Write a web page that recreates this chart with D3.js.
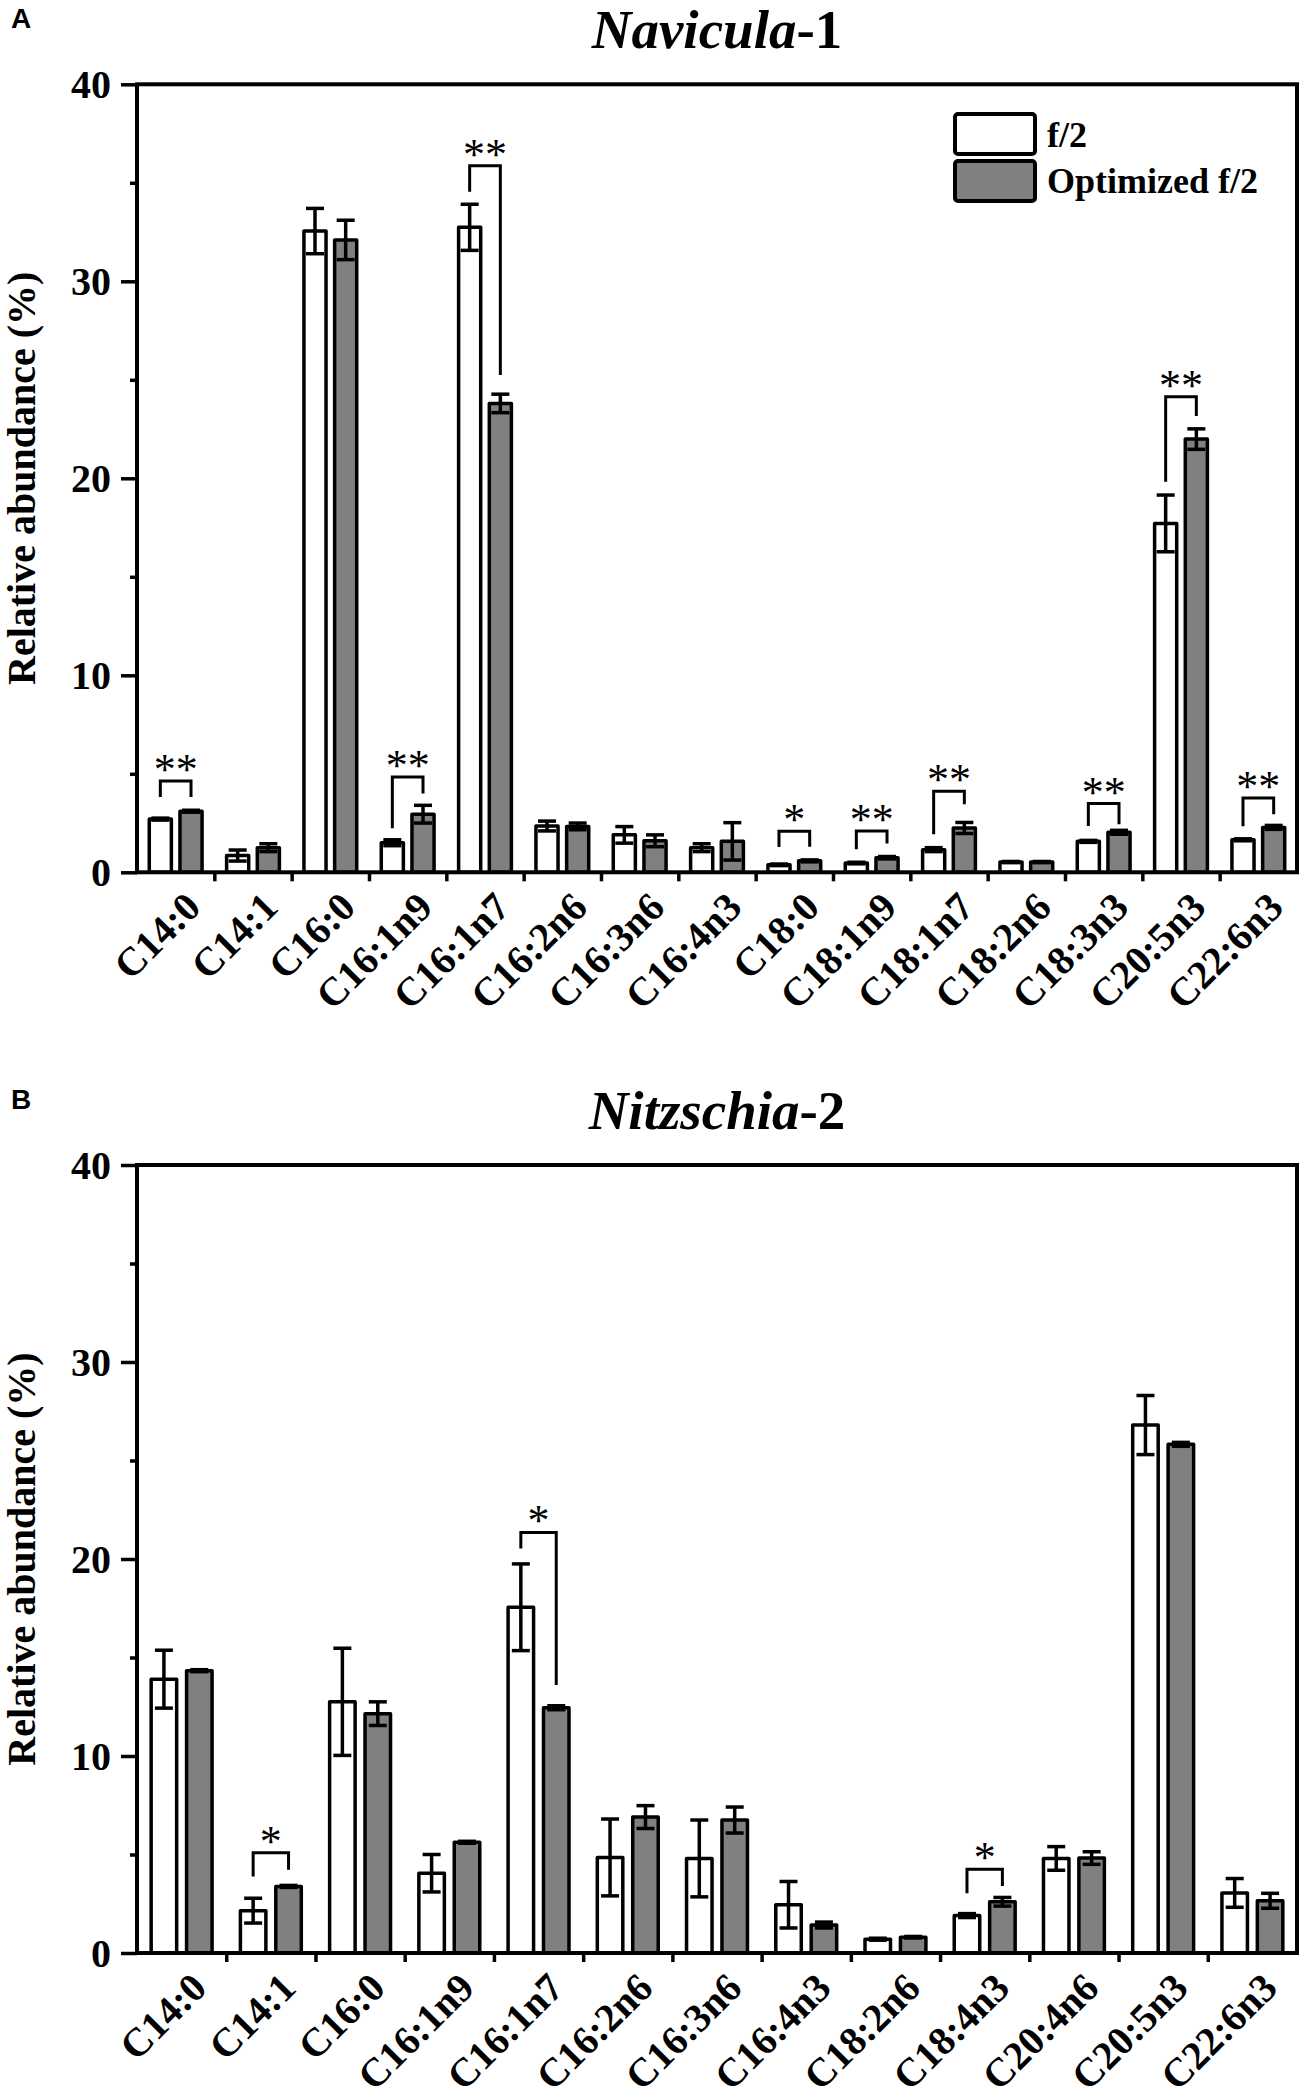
<!DOCTYPE html>
<html>
<head>
<meta charset="utf-8">
<script src="https://cdn.jsdelivr.net/npm/d3@7"></script>
<style>
    body { margin: 0; background: #fff; }
    svg text { font-family: "Liberation Serif", "Times New Roman", serif; }
    .axis text { font-weight: bold; font-size: 40px; }
    .axis line { stroke: #000; stroke-width: 3.5; }
    .cat-label { font-weight: bold; font-size: 40px; }
    .star { font-size: 44px; }
</style>
</head>
<body>
<div id="chart"></div>
<script>
// ---- panel A: Navicula-1 ----
const catsA = ["C14:0", "C14:1", "C16:0", "C16:1n9", "C16:1n7", "C16:2n6", "C16:3n6", "C16:4n3",
    "C18:0", "C18:1n9", "C18:1n7", "C18:2n6", "C18:3n3", "C20:5n3", "C22:6n3"];
const f2A     = [2.70, 0.85, 32.55, 1.50, 32.74, 2.35, 1.90, 1.25, 0.38, 0.47, 1.15, 0.52, 1.57, 17.71, 1.65];
const f2ErrA  = [0.05, 0.28, 1.15, 0.15, 1.17, 0.25, 0.42, 0.20, 0.04, 0.04, 0.10, 0.03, 0.05, 1.44, 0.05];
const optA    = [3.10, 1.25, 32.10, 2.95, 23.80, 2.33, 1.60, 1.57, 0.58, 0.74, 2.25, 0.52, 2.03, 21.99, 2.28];
const optErrA = [0.05, 0.20, 1.00, 0.45, 0.47, 0.17, 0.30, 0.95, 0.05, 0.06, 0.28, 0.03, 0.10, 0.52, 0.10];
// significance: category, stars, bracket level, left leg end, right leg end (% units)
const sigA = [
    ["C14:0", "**", 4.63, 3.82, 3.82],
    ["C16:1n9", "**", 4.84, 2.23, 4.00],
    ["C16:1n7", "**", 35.87, 34.55, 25.24],
    ["C18:0", "*", 2.08, 1.28, 1.30],
    ["C18:1n9", "**", 2.10, 1.17, 1.46],
    ["C18:1n7", "**", 4.11, 1.93, 3.45],
    ["C18:3n3", "**", 3.49, 2.35, 2.44],
    ["C20:5n3", "**", 24.14, 19.82, 23.16],
    ["C22:6n3", "**", 3.77, 2.34, 2.95]
];

// ---- panel B: Nitzschia-2 ----
const catsB = ["C14:0", "C14:1", "C16:0", "C16:1n9", "C16:1n7", "C16:2n6", "C16:3n6", "C16:4n3",
    "C18:2n6", "C18:4n3", "C20:4n6", "C20:5n3", "C22:6n3"];
const f2B     = [13.90, 2.15, 12.75, 4.05, 17.55, 4.85, 4.80, 2.45, 0.70, 1.90, 4.80, 26.80, 3.05];
const f2ErrB  = [1.47, 0.63, 2.72, 0.95, 2.20, 1.95, 1.95, 1.18, 0.05, 0.10, 0.60, 1.50, 0.73];
const optB    = [14.33, 3.38, 12.15, 5.62, 12.45, 6.90, 6.75, 1.42, 0.80, 2.60, 4.82, 25.82, 2.65];
const optErrB = [0.05, 0.05, 0.60, 0.05, 0.10, 0.58, 0.66, 0.15, 0.04, 0.22, 0.32, 0.10, 0.38];
const sigB = [
    ["C14:1", "*", 5.09, 3.88, 4.22],
    ["C16:1n7", "*", 21.35, 20.53, 13.61],
    ["C18:4n3", "*", 4.25, 3.03, 3.40]
];

const majorTicks = [0, 10, 20, 30, 40];
const minorTicks = [5, 15, 25, 35];
const seriesNames = ["f/2", "Optimized f/2"];
const seriesFill = ["#ffffff", "#808080"];

const W = 1299, H = 2100;
const left = 137, right = 1297, plotH = 788;

const svg = d3.select("#chart").append("svg")
    .attr("width", W)
    .attr("height", H)
    .attr("viewBox", `0 0 ${W} ${H}`);

function drawPanel(opts) {
    const top = opts.top;
    const bottom = top + plotH;
    const g = svg.append("g");

    const x = d3.scaleBand().domain(opts.cats).range([left, right]).padding(0);
    const inner = d3.scaleBand().domain([0, 1]).range([0, x.bandwidth()])
        .paddingInner(0.28).paddingOuter(0.40);
    const y = d3.scaleLinear().domain([0, 40]).range([bottom, top]);
    const xi = d3.scaleLinear().domain([0, opts.cats.length]).range([left, right]);

    // title + letter
    const title = g.append("text")
        .attr("x", (left + right) / 2)
        .attr("y", top - 36)
        .attr("text-anchor", "middle")
        .style("font-size", "55px")
        .style("font-weight", "bold");
    title.append("tspan").style("font-style", "italic").text(opts.genus);
    title.append("tspan").text(opts.suffix);

    g.append("text")
        .attr("x", 11)
        .attr("y", top - 56)
        .style("font-family", "'Liberation Sans', Arial, sans-serif")
        .style("font-weight", "bold")
        .style("font-size", "28px")
        .text(opts.letter);

    // axes
    const yAxis = g.append("g")
        .attr("class", "axis")
        .attr("transform", `translate(${left},0)`)
        .call(d3.axisLeft(y).tickValues(majorTicks).tickSize(16).tickPadding(10));
    yAxis.select(".domain").remove();
    yAxis.selectAll("text").attr("dy", "0.34em");

    const yMinor = g.append("g")
        .attr("class", "axis")
        .attr("transform", `translate(${left},0)`)
        .call(d3.axisLeft(y).tickValues(minorTicks).tickSize(7).tickFormat(""));
    yMinor.select(".domain").remove();

    const xAxis = g.append("g")
        .attr("class", "axis")
        .attr("transform", `translate(0,${bottom})`)
        .call(d3.axisBottom(xi).tickValues(d3.range(1, opts.cats.length)).tickSize(9).tickFormat(""));
    xAxis.select(".domain").remove();

    g.selectAll(".cat-label")
        .data(opts.cats)
        .enter().append("text")
        .attr("class", "cat-label")
        .attr("text-anchor", "end")
        .attr("transform", d => `translate(${x(d) + x.bandwidth() / 2 + 27},${bottom + 37}) rotate(-45)`)
        .text(d => d);

    g.append("text")
        .attr("transform", `translate(35,${(top + bottom) / 2}) rotate(-90)`)
        .attr("text-anchor", "middle")
        .style("font-size", "40px")
        .style("font-weight", "bold")
        .text("Relative abundance (%)");

    // bars
    const rows = [];
    opts.cats.forEach((c, i) => {
        rows.push({ cat: c, s: 0, v: opts.f2[i], e: opts.f2Err[i] });
        rows.push({ cat: c, s: 1, v: opts.opt[i], e: opts.optErr[i] });
    });
    const cx = d => x(d.cat) + inner(d.s) + inner.bandwidth() / 2;

    g.selectAll(".bar")
        .data(rows)
        .enter().append("rect")
        .attr("class", "bar")
        .attr("x", d => x(d.cat) + inner(d.s))
        .attr("width", inner.bandwidth())
        .attr("y", d => y(d.v))
        .attr("height", d => y(0) - y(d.v))
        .attr("fill", d => seriesFill[d.s])
        .attr("stroke", "#000")
        .attr("stroke-width", 3.5)
        .attr("stroke-linejoin", "round");

    // error bars
    const err = g.selectAll(".err")
        .data(rows)
        .enter().append("g")
        .attr("class", "err")
        .attr("stroke", "#000")
        .attr("stroke-width", 3.5);
    err.append("line")
        .attr("x1", cx).attr("x2", cx)
        .attr("y1", d => y(d.v - d.e)).attr("y2", d => y(d.v + d.e));
    err.append("line")
        .attr("x1", d => cx(d) - 9).attr("x2", d => cx(d) + 9)
        .attr("y1", d => y(d.v + d.e)).attr("y2", d => y(d.v + d.e));
    err.append("line")
        .attr("x1", d => cx(d) - 9).attr("x2", d => cx(d) + 9)
        .attr("y1", d => y(d.v - d.e)).attr("y2", d => y(d.v - d.e));

    // significance brackets
    const sig = g.selectAll(".sig")
        .data(opts.sig)
        .enter().append("g")
        .attr("class", "sig");
    sig.append("path")
        .attr("fill", "none")
        .attr("stroke", "#000")
        .attr("stroke-width", 3)
        .attr("d", d => {
            const xl = cx({ cat: d[0], s: 0 }), xr = cx({ cat: d[0], s: 1 });
            return `M${xl},${y(d[3])}V${y(d[2])}H${xr}V${y(d[4])}`;
        });
    sig.append("text")
        .attr("class", "star")
        .attr("text-anchor", "middle")
        .attr("x", d => x(d[0]) + x.bandwidth() / 2)
        .attr("y", d => y(d[2]) + 3)
        .text(d => d[1]);

    // frame
    g.append("rect")
        .attr("x", left).attr("y", top)
        .attr("width", right - left).attr("height", plotH)
        .attr("fill", "none")
        .attr("stroke", "#000")
        .attr("stroke-width", 4);

    // legend
    if (opts.legend) {
        const lg = g.append("g");
        seriesNames.forEach((name, i) => {
            lg.append("rect")
                .attr("x", 955).attr("y", 114 + i * 47)
                .attr("width", 80).attr("height", 40)
                .attr("rx", 3)
                .attr("fill", seriesFill[i])
                .attr("stroke", "#000")
                .attr("stroke-width", 4);
            lg.append("text")
                .attr("x", 1047).attr("y", 147 + i * 46)
                .style("font-size", "36px")
                .style("font-weight", "bold")
                .text(name);
        });
    }
}

drawPanel({
    top: 84.3, letter: "A", genus: "Navicula", suffix: "-1", legend: true,
    cats: catsA, f2: f2A, f2Err: f2ErrA, opt: optA, optErr: optErrA, sig: sigA
});
drawPanel({
    top: 1165, letter: "B", genus: "Nitzschia", suffix: "-2", legend: false,
    cats: catsB, f2: f2B, f2Err: f2ErrB, opt: optB, optErr: optErrB, sig: sigB
});
</script>
</body>
</html>
